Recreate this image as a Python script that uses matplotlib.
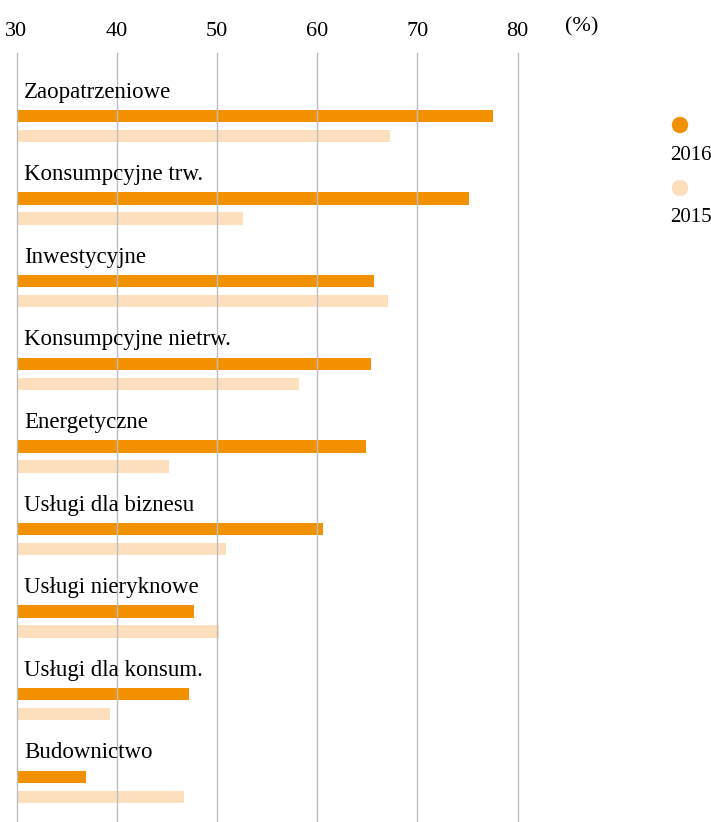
import numpy as np
import matplotlib.pyplot as plt
from matplotlib.patches import Ellipse

plt.rcParams['font.family'] = ['Liberation Serif', 'DejaVu Serif']

categories = [
    "Zaopatrzeniowe",
    "Konsumpcyjne trw.",
    "Inwestycyjne",
    "Konsumpcyjne nietrw.",
    "Energetyczne",
    "Usługi dla biznesu",
    "Usługi nieryknowe",
    "Usługi dla konsum.",
    "Budownictwo",
]
values_2016 = [77.6, 75.2, 65.7, 65.4, 64.9, 60.6, 47.7, 47.2, 36.9]
values_2015 = [67.3, 52.6, 67.1, 58.2, 45.2, 50.9, 50.2, 39.3, 46.7]
series_labels = ["2016", "2015"]
xticks = [30, 40, 50, 60, 70, 80]

c_2016 = "#F29100"
c_2015 = "#FDDFBD"
grid_c = "#BDBDBD"

W, H = 711, 822
fig = plt.figure(figsize=(W / 100, H / 100), dpi=100)

# axes in pixel layout
left_px, right_px = 16.5, 517.5
top_px, bottom_px = 53, 822
ax = fig.add_axes([left_px / W, 0, (right_px - left_px) / W, (bottom_px - top_px) / H])

step = 82.6  # px between groups
y = np.arange(len(categories))
off = 20 / step
bh = 12.5 / step

ax.barh(y, np.array(values_2016) - 30, left=30, height=bh, color=c_2016, zorder=1)
ax.barh(y + off, np.array(values_2015) - 30, left=30, height=bh, color=c_2015, zorder=1)

for i, cat in enumerate(categories):
    ax.text(30.75, i - 0.29, cat, fontsize=16.5, va="center", ha="left", color="#000000")

ax.set_xlim(30, 80)
ax.set_ylim((bottom_px - 116) / step, -(116 - top_px) / step)
ax.set_xticks(xticks)
ax.set_xticklabels([str(t) for t in xticks], fontsize=16)
ax.xaxis.tick_top()
ax.tick_params(axis="x", length=0, pad=9)
ax.set_yticks([])
for sp in ax.spines.values():
    sp.set_visible(False)
ax.grid(axis="x", color=grid_c, linewidth=1, zorder=2)
ax.set_axisbelow(False)
for gl in ax.xaxis.get_gridlines():
    gl.set_clip_on(False)

fig.text(582 / W, 1 - 27 / H, "(%)", fontsize=16, ha="center", va="center")

# legend
for k, (lab, col) in enumerate(zip(series_labels, [c_2016, c_2015])):
    cy = 125 + 63 * k
    fig.patches.append(Ellipse((680 / W, 1 - cy / H), 15 / W, 15 / H,
                               transform=fig.transFigure, color=col))
    fig.text(691 / W, 1 - (cy + 30) / H, lab, fontsize=15, ha="center", va="center")

fig.savefig("out.png", dpi=100)
